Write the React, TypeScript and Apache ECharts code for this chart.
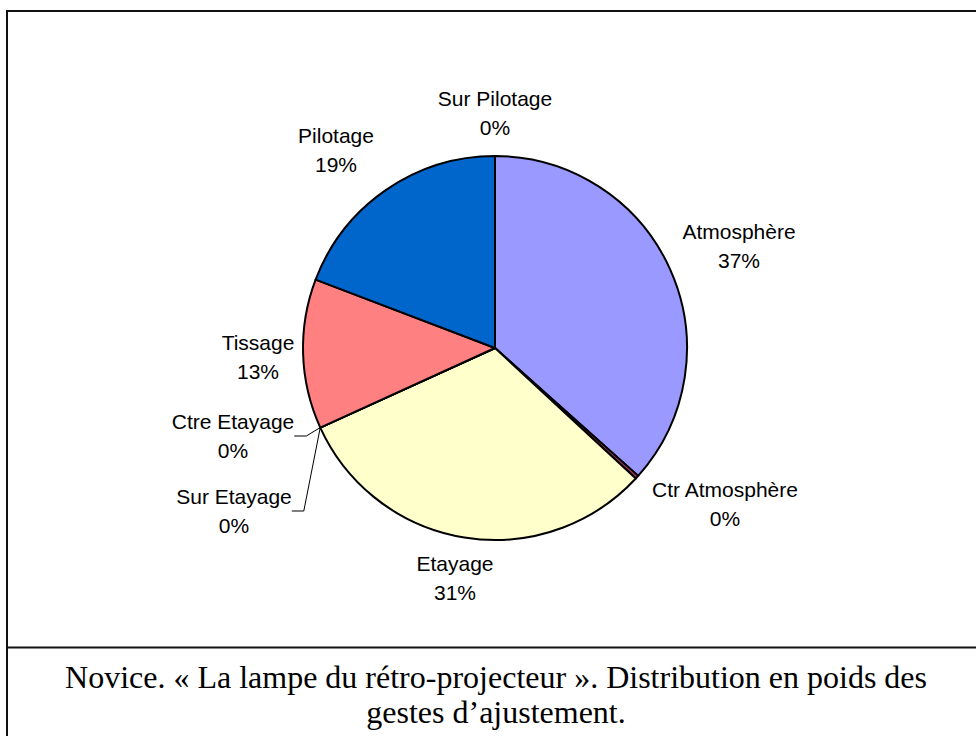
import React, { useEffect, useRef } from "react";
import * as echarts from "echarts";

const categories = [
  "Atmosphère",
  "Ctr Atmosphère",
  "Etayage",
  "Sur Etayage",
  "Ctre Etayage",
  "Tissage",
  "Pilotage",
  "Sur Pilotage",
];
const values = [36.6, 0.3, 31.3, 0, 0, 12.6, 19.2, 0];
const colors = ["#9999FF", "#993366", "#FFFFCC", "#00FFFF", "#660066", "#FF8080", "#0066CC", "#CCCCFF"];
const captionLines = [
  "Novice. « La lampe du rétro-projecteur ». Distribution en poids des",
  "gestes d’ajustement.",
];

export default function App() {
  const ref = useRef<HTMLDivElement>(null);
  useEffect(() => {
    if (!ref.current) return;
    const chart = echarts.init(ref.current, undefined, { renderer: "svg" });
    const labelPos: Record<number, [number, number]> = {
      0: [739, 246],
      1: [725, 504],
      2: [455, 578],
      3: [234, 511],
      4: [233, 436],
      5: [258, 357],
      6: [336, 150],
      7: [495, 113],
    };
    const leader = new Set([3, 4]);
    chart.setOption({
      animation: false,
      backgroundColor: "#ffffff",
      series: [
        {
          type: "pie",
          center: [495, 348],
          radius: 192,
          startAngle: 90,
          clockwise: true,
          avoidLabelOverlap: false,
          silent: true,
          emphasis: { disabled: true },
          itemStyle: { borderColor: "#000", borderWidth: 2 },
          label: {
            show: true,
            position: "outside",
            color: "#000",
            fontFamily: "Liberation Sans",
            fontSize: 21,
            lineHeight: 29,
            align: "center",
            formatter: (p: any) => `${p.name}\n${Math.round(p.percent)}%`,
          },
          labelLine: { show: false },
          labelLayout: (params: any) => {
            const pos = labelPos[params.dataIndex];
            return { x: pos[0], y: pos[1], align: "center", verticalAlign: "middle" };
          },
          data: categories.map((name, i) => ({
            name,
            value: values[i],
            itemStyle: { color: colors[i] },
            labelLine: leader.has(i)
              ? { show: true, length: 10, length2: 12, lineStyle: { color: "#000", width: 1 } }
              : { show: false },
          })),
        },
      ],
      graphic: [
        {
          type: "rect",
          shape: { x: 7, y: 11, width: 1000, height: 800 },
          style: { fill: "none", stroke: "#111", lineWidth: 2 },
          silent: true,
        },
        {
          type: "line",
          shape: { x1: 7, y1: 647.5, x2: 976, y2: 647.5 },
          style: { stroke: "#111", lineWidth: 2 },
          silent: true,
        },
        {
          type: "text",
          x: 496,
          y: 677,
          style: {
            text: captionLines[0],
            fontFamily: "Liberation Serif",
            fontSize: 32,
            fill: "#000",
            align: "center",
            verticalAlign: "middle",
          },
          silent: true,
        },
        {
          type: "text",
          x: 496,
          y: 712,
          style: {
            text: captionLines[1],
            fontFamily: "Liberation Serif",
            fontSize: 32,
            fill: "#000",
            align: "center",
            verticalAlign: "middle",
          },
          silent: true,
        },
      ],
    });
    return () => chart.dispose();
  }, []);
  return (
    <div
      ref={ref}
      style={{ position: "fixed", left: 0, top: 0, width: 976, height: 736 }}
    />
  );
}
